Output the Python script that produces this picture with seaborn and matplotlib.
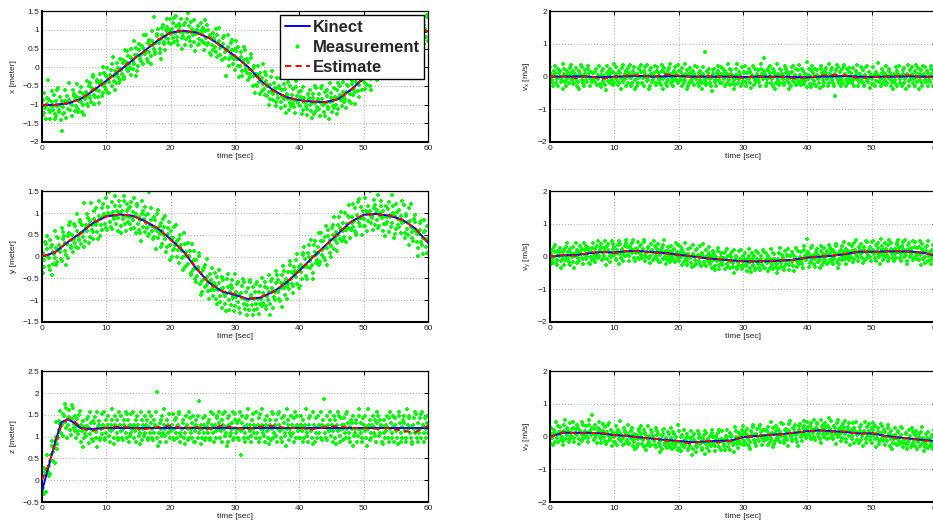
import numpy as np
import matplotlib
matplotlib.use("Agg")
import matplotlib.pyplot as plt
from matplotlib.lines import Line2D
from matplotlib.ticker import MultipleLocator, FuncFormatter
import seaborn as sns

# ---------------------------------------------------------------- data
# Reference track times (s)
t_track = [0, 2, 4, 6, 8, 10, 12, 14, 16, 18, 20, 22, 24, 26, 28, 30,
           32, 34, 36, 38, 40, 42, 44, 46, 48, 50, 52, 54, 56, 58, 60]
t_track_z = [0, 1, 2, 3, 4, 5, 6, 7, 8, 10, 12, 14, 16, 18, 20, 22, 24, 26,
             28, 30, 32, 34, 36, 38, 40, 42, 44, 46, 48, 50, 52, 54, 56, 58, 60]

# Kinect ground truth and filter estimate
x_kinect = [-1.02, -1.00, -0.97, -0.85, -0.62, -0.36, -0.10, 0.18, 0.45, 0.72, 0.93,
            0.98, 0.93, 0.78, 0.56, 0.30, 0.02, -0.36, -0.62, -0.80, -0.88, -0.92,
            -0.93, -0.86, -0.60, -0.30, 0.02, 0.35, 0.65, 0.85, 0.97]
x_estimate = [-1.00, -1.01, -0.95, -0.86, -0.60, -0.38, -0.08, 0.20, 0.43, 0.74, 0.92,
              0.99, 0.92, 0.79, 0.54, 0.31, 0.00, -0.34, -0.64, -0.79, -0.89, -0.91,
              -0.94, -0.85, -0.62, -0.28, 0.03, 0.33, 0.66, 0.86, 0.98]

y_kinect = [0.00, 0.10, 0.33, 0.55, 0.78, 0.92, 0.97, 0.94, 0.82, 0.65, 0.40,
            0.12, -0.28, -0.60, -0.80, -0.88, -0.97, -0.94, -0.80, -0.60, -0.32,
            -0.03, 0.25, 0.52, 0.80, 0.96, 0.98, 0.94, 0.85, 0.65, 0.32]
y_estimate = [0.01, 0.09, 0.35, 0.53, 0.79, 0.93, 0.96, 0.95, 0.80, 0.66, 0.38,
              0.14, -0.26, -0.62, -0.79, -0.86, -0.98, -0.92, -0.81, -0.58, -0.33,
              -0.02, 0.24, 0.54, 0.79, 0.97, 0.97, 0.95, 0.84, 0.66, 0.31]

z_kinect = [-0.25, 0.30, 0.85, 1.33, 1.40, 1.32, 1.20, 1.18, 1.18, 1.20, 1.20, 1.20,
            1.20, 1.20, 1.20, 1.20, 1.20, 1.20, 1.20, 1.20, 1.20, 1.20, 1.20, 1.20,
            1.20, 1.20, 1.20, 1.20, 1.20, 1.20, 1.20, 1.20, 1.20, 1.20, 1.20]
z_estimate = [0.00, 0.35, 0.80, 1.25, 1.40, 1.36, 1.22, 1.16, 1.15, 1.20, 1.24, 1.20,
              1.17, 1.22, 1.25, 1.20, 1.22, 1.18, 1.26, 1.20, 1.18, 1.23, 1.25, 1.20,
              1.20, 1.17, 1.22, 1.24, 1.20, 1.20, 1.18, 1.20, 1.13, 1.10, 1.25]

vx_kinect = [0.00, 0.00, 0.01, 0.00, -0.02, 0.00, 0.01, 0.02, 0.00, 0.01, 0.02,
             0.00, 0.00, 0.00, 0.00, -0.01, 0.00, 0.00, 0.00, -0.01, -0.02, 0.00,
             0.01, 0.02, 0.00, -0.01, 0.00, 0.00, 0.01, 0.00, 0.00]
vx_estimate = [0.00, 0.01, -0.04, 0.02, -0.07, 0.00, 0.03, 0.04, 0.00, 0.07, 0.03,
               -0.02, 0.02, 0.00, 0.01, -0.04, 0.02, -0.02, 0.00, -0.05, -0.03, 0.03,
               0.05, 0.04, -0.05, -0.01, 0.00, 0.02, 0.04, -0.02, -0.02]

vy_kinect = [0.00, 0.04, 0.05, 0.10, 0.14, 0.13, 0.17, 0.17, 0.14, 0.11, 0.06,
             0.01, -0.04, -0.08, -0.11, -0.14, -0.15, -0.14, -0.12, -0.09, -0.03,
             0.00, 0.03, 0.08, 0.15, 0.15, 0.16, 0.16, 0.16, 0.12, 0.03]
vy_estimate = [0.01, 0.05, 0.03, 0.12, 0.15, 0.11, 0.18, 0.16, 0.12, 0.10, 0.04,
               0.02, -0.05, -0.07, -0.12, -0.15, -0.14, -0.13, -0.11, -0.10, -0.02,
               0.01, 0.04, 0.09, 0.16, 0.14, 0.15, 0.18, 0.14, 0.13, 0.02]

vz_kinect = [0.00, 0.12, 0.12, 0.12, 0.10, 0.05, 0.02, -0.02, -0.06, -0.10, -0.13,
             -0.17, -0.15, -0.13, -0.12, -0.02, 0.02, 0.05, 0.08, 0.12, 0.17, 0.19,
             0.17, 0.14, 0.10, 0.10, 0.03, -0.02, -0.06, -0.10, -0.13]
vz_estimate = [-0.02, 0.14, 0.10, 0.11, 0.12, 0.04, 0.03, -0.04, -0.05, -0.12, -0.14,
               -0.22, -0.12, -0.17, -0.13, 0.00, 0.01, 0.06, 0.07, 0.13, 0.16, 0.20,
               0.15, 0.16, 0.08, 0.12, 0.02, -0.04, -0.05, -0.12, -0.14]

# Measurement residuals about the Kinect track, one character per sample.
# Levels run a < A < b < B < ... < z < Z in half-unit steps, centred on m/M.
x_resid = (
    "mNkKpLjmMosNljKmnPlmOkjJnmPqlKmoIgnLkkPnMjolMrnKmmLjpNokMlnqJkmMopLjnKmi"
    "LmnPkJmoOlkMnqPljKmmNokIlpMnmJkqOlmNkpMjjLnoMkpQlmnIkmOlnJpkMmlNokJqmnPl"
    "oKmlNjpMmkQlnOijMkpNmlKomJnqLmmPkjNolMkiPnmSlkJmoNpmLkjHmnOplKmjNqoMlkPn"
    "JmnOlkPmqNkljMomNpiKmlNojKmpQmlNkjOmnLpkMimSnoJlkMnpMloKjqNmpKloMnjIMlok"
    "nMlkPojMnqLkmMjnOpkLmgMnqKjlOmnPkmLjoNqmKpiMlnOkjMqnPlmKojNmlKpqMnjLoiMk"
    "kMpnLjoMnkQmlJpnOmkMliJnpQmkLonMjkPmlNoqKjmNmpLokIMnmqJlpKmnOlmKjpQnmLoS"
    "MlnOjkPmnRlmKjoMnpLkmIonJmqPklMnoKjmPnqLmkOjmNplKimQnoJlmKpnMljOqkMnpLmk"
    "PnmKljMoqNkmLpjNomKmliQnpKmjLonMkpmNqlJokMnpLmjKioMnqPlkMjnOmlKpqNmjLomK"
    "lKmnOpjMqlNkmJomNpkLiqMnoJkmPlnMqkJolMnpKmjLnoQmkIpnMloJkqMnpLkmJonMlqPk")
y_resid = (
    "MnjLkpOmqNmkLjpNoiMkmQlnJpkOmnLmkJqpNolMkimNjoPqlKmnJpmOlkQnmJlpOkmNlmjR"
    "kMnpLojMknQmlKjnOmpLmkIqnMjlOkpMnlMqkJnoMrlMkpJnmLoqKmnLjpMokInmLqpKjmOn"
    "NlmKopJmnLqkMjnOplMkmJiqNolMkpNmlJokSmnPlmJkoNmiLpqKmnLjoMkpNmqLjkMonPli"
    "MojKnlPmqMnkLjoMpnKmlIqoJmnKplMnoJkqMlpNmkJolMnqPkiMljNomKplQnmKjoMlnPkm"
    "LnpMkjOmqNlkMpjOnmLkmIpqNjlMkoNpmLjkQmnOplMkjGnmOqlPkmNjlOmkPqnMljOkmNpl"
    "PkmNjlOmqKlnMpoJkmNlqMikOpnMjlKmqNpoLmkJnmOiqLpkMnjLmoKqpNmlKjoMnpLqkMjn"
    "MjnLkpOmqNkmLjoPnmKqlMijOnpKmlNmqJkoPmlNkmJoqLipNmkMjlOnpQkmLnjKomPlnMqk"
    "mNkKpLjmMoqNljKmnPlmOkjJnmPqlKmoImnLkkPnMjolMrnKmmLjpNokMlnqJkmMopLjnKmi"
    "oKmlNjpMmkQlnOijMkpNmlKomJnqLmmPkjNolMkiPnmQlkJmoNpmLkjHmnOplKmjNqoMlkPn")
z_resid = (
    "nMlkPojMnqLkmMjnOpkLmiMnqKjlOmnPkmLjoNqmKpiMlnOkjMqnPlmKojNmlKpqMnjLoiMk"
    "lKmnOpjMqlNkmJomNpkLiqMnoJkmPlnMqkJolMnpKmjLnoQmkIpnMloJkqMnpLkmJonMlqPk"
    "MojKnlPmqMnkLjoMpnKmlIqoJmnKplMnoJkqMlpNmkJolMnqUkiMljNomKplQnmKjoMlnPkm"
    "LmnPkJmoOlkMnqPljKmmNokIlpMnmJkqOlmNkpMjjLnoMkpSlmnIkmOlnJpkMmlNokJqmnPl"
    "MjnLkpOmqNkmLjoPnmKqlMijOnpKmlNmqJkoPmlNkmJoqLgpNmkMjlOnpQkmLnjKomPlnMqk"
    "MlnOjkPmnQlmKjoMnpLkmIonJmqPklMnoKjmPnqLmkOjmNplKimQnoJlmKpnMljOqkMnpLmk"
    "kMnpLojMknQmlKjnOmpLmkIqnMjlOkpMnlMqkJnoMtlMkpJnmLoqKmnLjpMokInmLqpKjmOn"
    "JmnOlkPmqNkljMomNpiKmlNojKmpQmlNkjOmnLpkMimQnoJlkMnpMloKjqNmpKloMnjIMlok"
    "LnpMkjOmqNlkMpjOnmLkmIpqNjlMkoNpmLjkQmnOplMkjInmOqlPkmNjlOmkPqnMljOkmNpl")
vx_resid = (
    "PnmKljMoqNkmLpjNomKmliQnpKmjLonMkpmNqlJokMnpLmjKioMnqPlkMjnOmlKpqNmjLomK"
    "NlmKopJmnLqkMjnOplMkmJiqNolMkpNmlJokQmnPlmJkoNmiLpqKmnLjoMkpNmqLjkMonPli"
    "MjnLkpOmqNkmLjoPnmKqlMijOnpKmlNmqJkoPmlNkmJoqLipNmkMjlOnpQkmLnjKomPlnMqk"
    "oKmlNjpMmkQlnOijMkpNmlKomJnqLmmPkjNolMkiPnmUlkJmoNpmLkjHmnOplKmjNqoMlkPn"
    "kMpnLjoMnkQmlJpnOmkMliJnpQmkLonMjkPmlNoqKjmNmpLokIMnmqJlpKmnOlmKjpQnmLoS"
    "MnjLkpOmqNmkLjpNoiMkmQlnJpkOmnLmkJqpNolMkimNjoPqlKmnJpmOlkQnmJlpOkmNlmjR"
    "LnpMkjOmqNlkMpjOnmLkmIpqNjlMkoNpmLjkQmnOplMkjFnmOqlPkmNjlOmkPqnMljOkmNpl"
    "mNkKpLjmMoqNljKmnPlmOkjJnmPqlKmoImnLkkPnMjolMrnKmmLjpNokMlnqJkmMopLjnKmi"
    "nMlkPojMnqLkmMjnOpkLmiMnqKjlOmnPkmLjoNqmKpiMlnOkjMqnPlmKojNmlKpqMnjLoiMk")
vy_resid = (
    "JmnOlkPmqNkljMomNpiKmlNojKmpQmlNkjOmnLpkMimQnoJlkMnpMloKjqNmpKloMnjIMlok"
    "PkmNjlOmqKlnMpoJkmNlqMikOpnMjlKmqNpoLmkJnmOiqLpkMnjLmoKqpNmlKjoMnpLqkMjn"
    "LmnPkJmoOlkMnqPljKmmNokIlpMnmJkqOlmNkpMjjLnoMkpQlmnIkmOlnJpkMmlNokJqmnPl"
    "kMnpLojMknQmlKjnOmpLmkIqnMjlOkpMnlMqkJnoMrlMkpJnmLoqKmnLjpMokInmLqpKjmOn"
    "lKmnOpjMqlNkmJomNpkLiqMnoJkmPlnMqkJolMnpKmjLnoQmkIpnMloJkqMnpLkmJonMlqPk"
    "kMpnLjoMnkQmlJpnOmkMliJnpQmkLonMjkPmlNoqKjmNmpLokIMnmqJlpKmnOlmKjpQnmLoS"
    "MojKnlPmqMnkLjoMpnKmlIqoJmnKplMnoJkqMlpNmkJolMnqPkiMljNomKplQnmKjoMlnPkm"
    "MlnOjkPmnQlmKjoMnpLkmIonJmqPklMnoKjmPnqLmkOjmNplKimQnoJlmKpnMljOqkMnpLmk"
    "MjnLkpOmqNkmLjoPnmKqlMijOnpKmlNmqJkoPmlNkmJoqLipNmkMjlOnpQkmLnjKomPlnMqk")
vz_resid = (
    "kMpnLjoMnkQmlJpnOmkMliJnpQmkLonMjkPmlNoqKjmNmpLokIMnmqJlpKmnOlmKjpQnmLoS"
    "mNkKpLjmMoqNljKmnPlmOkjJnmPqlKmoImnLkkPnMjolMrnKmmLjpNokMlnqJkmMopLjnKmi"
    "MnjLkpOmqNmkLjpNoiMkmQlnJpkOmnLmkJqpNolMkimNjoPqlKmnJpmOlkQnmJlpOkmNlmjR"
    "PkmNjlOmqKlnMpoJkmNlqMikOpnMjlKmqNpoLmkJnmOiqLpkMnjLmoKqpNmlKjoMnpLqkMjn"
    "PnmKljMoqNkmLpjNomKmliQnpKmjLonMkpmNqlJokMnpLmjKioMnqPlkMjnOmlKpqNmjLomK"
    "oKmlNjpMmkQlnOijMkpNmlKomJnqLmmPkjNolMkiPnmQlkJmoNpmLkjHmnOplKmjNqoMlkPn"
    "NlmKopJmnLqkMjnOplMkmJiqNolMkpNmlJokQmnPlmJkoNmiLpqKmnLjoMkpNmqLjkMonPli"
    "nMlkPojMnqLkmMjnOpkLmiMnqKjlOmnPkmLjoNqmKpiMlnOkjMqnPlmKojNmlKpqMnjLoiMk"
    "LmnPkJmoOlkMnqPljKmmNokIlpMnmJkqOlmNkpMjjLnoMkpQlmnIkmOlnJpkMmlNokJqmnPl")

resid_unit_pos = 0.115  # m per whole letter step (x, y)
resid_unit_z = 0.10     # m per whole letter step (z)
resid_unit_vel = 0.09   # m/s per whole letter step

# ---------------------------------------------------------------- style
sns.set_theme(style="white")
plt.rcParams["font.family"] = ["Liberation Sans", "DejaVu Sans"]
plt.rcParams["mathtext.default"] = "regular"

GREEN = "#00ff00"
BLUE = "#0000ff"
RED = "#ff0000"
DASH = (0, (3.2, 2.2))

LEVELS = "".join(c + c.upper() for c in "abcdefghijklmnopqrstuvwxyz")
CENTRE = (LEVELS.index("m") + LEVELS.index("M")) / 2.0


def decode(resid, unit):
    idx = np.array([LEVELS.index(c) for c in resid], dtype=float)
    return (idx - CENTRE) * unit / 2.0


def tick_fmt(v, _):
    return f"{v:g}".replace("-", "\u2212")


def draw_panel(ax, t, kinect, estimate, resid, unit, ylim, ystep, ylabel):
    t_meas = np.linspace(0, 60, len(resid))
    meas = np.interp(t_meas, t, kinect) + decode(resid, unit)
    sns.scatterplot(x=t_meas, y=meas, ax=ax, marker="P", s=11, color=GREEN,
                    linewidth=0, legend=False, zorder=2)
    sns.lineplot(x=t, y=kinect, ax=ax, color=BLUE, linewidth=1.4,
                 estimator=None, sort=False, zorder=3)
    sns.lineplot(x=t, y=estimate, ax=ax, color=RED, linewidth=1.4,
                 estimator=None, sort=False, zorder=4, dashes=False,
                 linestyle=DASH)
    ax.set_xlim(0, 60)
    ax.set_ylim(*ylim)
    ax.xaxis.set_major_locator(MultipleLocator(10))
    ax.yaxis.set_major_locator(MultipleLocator(ystep))
    ax.yaxis.set_major_formatter(FuncFormatter(tick_fmt))
    ax.set_axisbelow(True)
    ax.grid(True, color="#8a8a8a", linestyle=(0, (1, 2.5)), linewidth=0.6)
    ax.tick_params(direction="in", length=3, width=0.7, top=True, right=True,
                   labelsize=6, pad=2, labelcolor="#222222", color="black")
    for name, sp in ax.spines.items():
        sp.set_color("black")
        sp.set_linewidth(1.5 if name in ("left", "bottom") else 0.9)
    ax.set_xlabel("time [sec]", fontsize=6, labelpad=1, color="#222222")
    ax.set_ylabel(ylabel, fontsize=6, labelpad=4, color="#222222")


fig = plt.figure(figsize=(9.33, 5.27), dpi=100)
fig.patch.set_facecolor("white")

col_left = [0.045, 0.5895]
row_bottom = [0.7306, 0.389, 0.0474]
w, h = 0.4137, 0.248

panels = [
    (0, 0, t_track, x_kinect, x_estimate, x_resid, resid_unit_pos, (-2, 1.5), 0.5, "x [meter]"),
    (1, 0, t_track, y_kinect, y_estimate, y_resid, resid_unit_pos, (-1.5, 1.5), 0.5, "y [meter]"),
    (2, 0, t_track_z, z_kinect, z_estimate, z_resid, resid_unit_z, (-0.5, 2.5), 0.5, "z [meter]"),
    (0, 1, t_track, vx_kinect, vx_estimate, vx_resid, resid_unit_vel, (-2, 2), 1, "v$_x$ [m/s]"),
    (1, 1, t_track, vy_kinect, vy_estimate, vy_resid, resid_unit_vel, (-2, 2), 1, "v$_y$ [m/s]"),
    (2, 1, t_track, vz_kinect, vz_estimate, vz_resid, resid_unit_vel, (-2, 2), 1, "v$_z$ [m/s]"),
]

axes = {}
for row, col, t, kin, est, res, unit, ylim, ystep, ylabel in panels:
    ax = fig.add_axes([col_left[col], row_bottom[row], w, h])
    draw_panel(ax, t, kin, est, res, unit, ylim, ystep, ylabel)
    axes[(row, col)] = ax

handles = [
    Line2D([], [], color=BLUE, linewidth=1.4),
    Line2D([], [], color=GREEN, linestyle="none", marker=".", markersize=4),
    Line2D([], [], color=RED, linewidth=1.4, linestyle=DASH),
]
leg = axes[(0, 0)].legend(handles, ["Kinect", "Measurement", "Estimate"],
                          loc="upper right", bbox_to_anchor=(1, 1),
                          borderaxespad=0.25, fancybox=False, framealpha=1,
                          edgecolor="black", handlelength=1.5, handletextpad=0.18,
                          labelspacing=0.3, borderpad=0.25,
                          prop={"weight": "bold", "size": 12})
leg.get_frame().set_linewidth(1.0)
leg.set_zorder(10)

fig.savefig("out.png", dpi=100, facecolor="white")
